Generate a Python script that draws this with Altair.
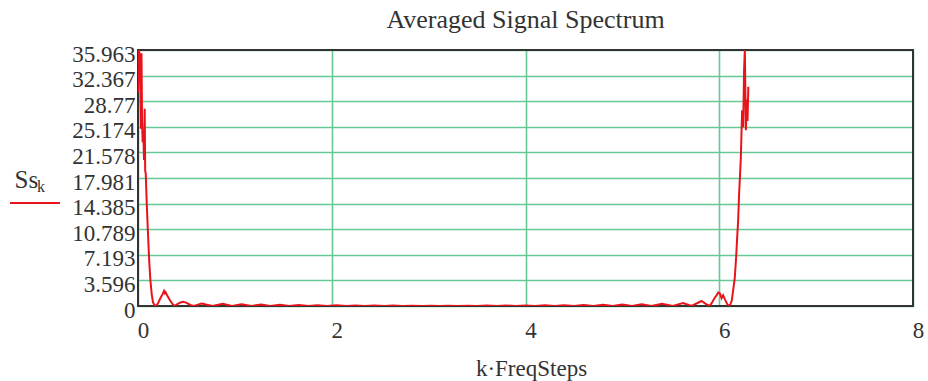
import altair as alt
import pandas as pd

# k·FreqSteps positions and averaged spectrum values
freq = [
    0.000, 0.012, 0.022, 0.030, 0.036, 0.042, 0.048, 0.055, 0.062, 0.069,
    0.074, 0.080, 0.090, 0.103, 0.115, 0.128, 0.142, 0.155, 0.172, 0.190,
    0.210, 0.235, 0.255, 0.268, 0.276, 0.285, 0.300, 0.330, 0.355, 0.379,
    0.410, 0.440, 0.465, 0.482, 0.500, 0.540, 0.575, 0.620, 0.655, 0.671,
    0.700, 0.770, 0.875, 0.970, 1.070, 1.170, 1.270, 1.365, 1.465, 1.560,
    1.660, 1.760, 1.855, 1.950, 2.050, 2.150, 2.245, 2.340, 2.440, 2.540,
    2.635, 2.730, 2.830, 2.930, 3.025, 3.110, 3.200, 3.300, 3.400, 3.500,
    3.600, 3.700, 3.800, 3.900, 4.000, 4.100, 4.200, 4.300, 4.400, 4.500,
    4.600, 4.700, 4.800, 4.900, 5.000, 5.100, 5.200, 5.300, 5.410, 5.520,
    5.627, 5.714, 5.817, 5.860, 5.903, 5.930, 5.955, 5.972, 5.990, 6.006,
    6.024, 6.040, 6.060, 6.085, 6.108, 6.130, 6.160, 6.175, 6.185, 6.195,
    6.205, 6.215, 6.223, 6.236, 6.247, 6.256, 6.264, 6.275, 6.285, 6.292,
    6.300,
]
ss = [
    30.0, 35.963, 34.0, 24.9, 35.5, 26.0, 23.0, 24.5, 20.5, 27.7,
    19.0, 18.6, 14.5, 10.2, 6.5, 3.6, 1.6, 0.5, 0.1, 0.0,
    0.5, 1.2, 1.7, 2.1, 1.8, 1.95, 1.5, 0.8, 0.3, 0.0,
    0.3, 0.5, 0.6, 0.55, 0.45, 0.15, 0.0, 0.2, 0.35, 0.32,
    0.2, 0.0, 0.3, 0.0, 0.25, 0.0, 0.2, 0.0, 0.17, 0.0,
    0.14, 0.0, 0.12, 0.0, 0.1, 0.0, 0.08, 0.0, 0.07, 0.0,
    0.06, 0.0, 0.05, 0.0, 0.04, 0.0, 0.04, 0.0, 0.05, 0.0,
    0.06, 0.0, 0.07, 0.0, 0.08, 0.0, 0.1, 0.0, 0.12, 0.0,
    0.14, 0.0, 0.17, 0.0, 0.2, 0.0, 0.25, 0.0, 0.3, 0.02,
    0.4, 0.0, 0.7, 0.3, 0.0, 0.6, 1.2, 1.5, 1.9, 1.8,
    1.1, 1.5, 0.9, 0.2, 0.0, 0.8, 3.9, 7.0, 9.65, 12.0,
    15.8, 18.5, 20.9, 27.5, 25.1, 33.0, 35.963, 24.7, 29.0, 26.0,
    30.8,
]

y_ticks = [0, 3.596, 7.193, 10.789, 14.385, 17.981, 21.578, 25.174, 28.77, 32.367, 35.963]
x_ticks = [0, 2, 4, 6, 8]

title_text = "Averaged Signal Spectrum"
x_title = "k\u00b7FreqSteps"
y_title = "Ss"
y_sub = "k"

W, H = 775, 256
FONT = "Liberation Serif"
TXT = "#333333"
GRID = "#66c995"
RED = "#e8141c"

df = pd.DataFrame({"freq": freq, "ss": ss})

x_enc = alt.X(
    "freq:Q",
    scale=alt.Scale(domain=[0, 8], nice=False, zero=False),
    axis=alt.Axis(
        values=x_ticks, labelExpr="'' + datum.value", grid=True, gridColor=GRID, gridWidth=1.6,
        ticks=False, domain=False, labelFont=FONT, labelFontSize=23,
        labelColor=TXT, labelPadding=13, labelOffset=5, labelFlush=False,
        title=x_title, titleFont=FONT, titleFontSize=23, titleFontWeight="normal",
        titleColor=TXT, titleX=393, titleY=69, titleAlign="center",
        titleBaseline="alphabetic",
    ),
)
y_enc = alt.Y(
    "ss:Q",
    scale=alt.Scale(domain=[0, 35.963], nice=False, zero=True),
    axis=alt.Axis(
        values=y_ticks, labelExpr="'' + datum.value", grid=True, gridColor=GRID, gridWidth=1.6,
        ticks=False, domain=False, labelFont=FONT, labelFontSize=23,
        labelColor=TXT, labelPadding=3, labelOffset=4, labelFlush=False,
        labelBaseline="middle",
        title=y_title, titleFont=FONT, titleFontSize=25, titleFontWeight="normal",
        titleColor=TXT, titleAngle=0, titleX=-124, titleY=137, titleAlign="left",
        titleBaseline="alphabetic",
    ),
)

line = alt.Chart(df).mark_line(color=RED, strokeWidth=2, clip=True).encode(x=x_enc, y=y_enc)

one = pd.DataFrame({"t": [y_sub]})
border = alt.Chart(one).mark_rect(fillOpacity=0, stroke="#333333", strokeWidth=2).encode(
    x=alt.value(0), x2=alt.value(W), y=alt.value(0), y2=alt.value(H)
)
sub = alt.Chart(one).mark_text(
    font=FONT, fontSize=16, color=TXT, align="left", baseline="alphabetic"
).encode(text="t:N", x=alt.value(-101), y=alt.value(142))
legend_line = alt.Chart(one).mark_rule(color=RED, strokeWidth=2).encode(
    x=alt.value(-128), x2=alt.value(-78), y=alt.value(153)
)

chart = (
    alt.layer(border, line, sub, legend_line)
    .properties(
        width=W,
        height=H,
        padding={"left": 138, "top": 50, "right": 15, "bottom": 75},
        autosize=alt.AutoSizeParams(type="none"),
        title=alt.TitleParams(
            title_text, font=FONT, fontSize=26, fontWeight="normal", color=TXT,
            offset=18, dy=29, baseline="alphabetic", anchor="middle",
        ),
    )
    .configure_view(stroke=None)
    .configure(background="white")
)

chart.save("out.html", embed_options={"renderer": "svg", "actions": False})
